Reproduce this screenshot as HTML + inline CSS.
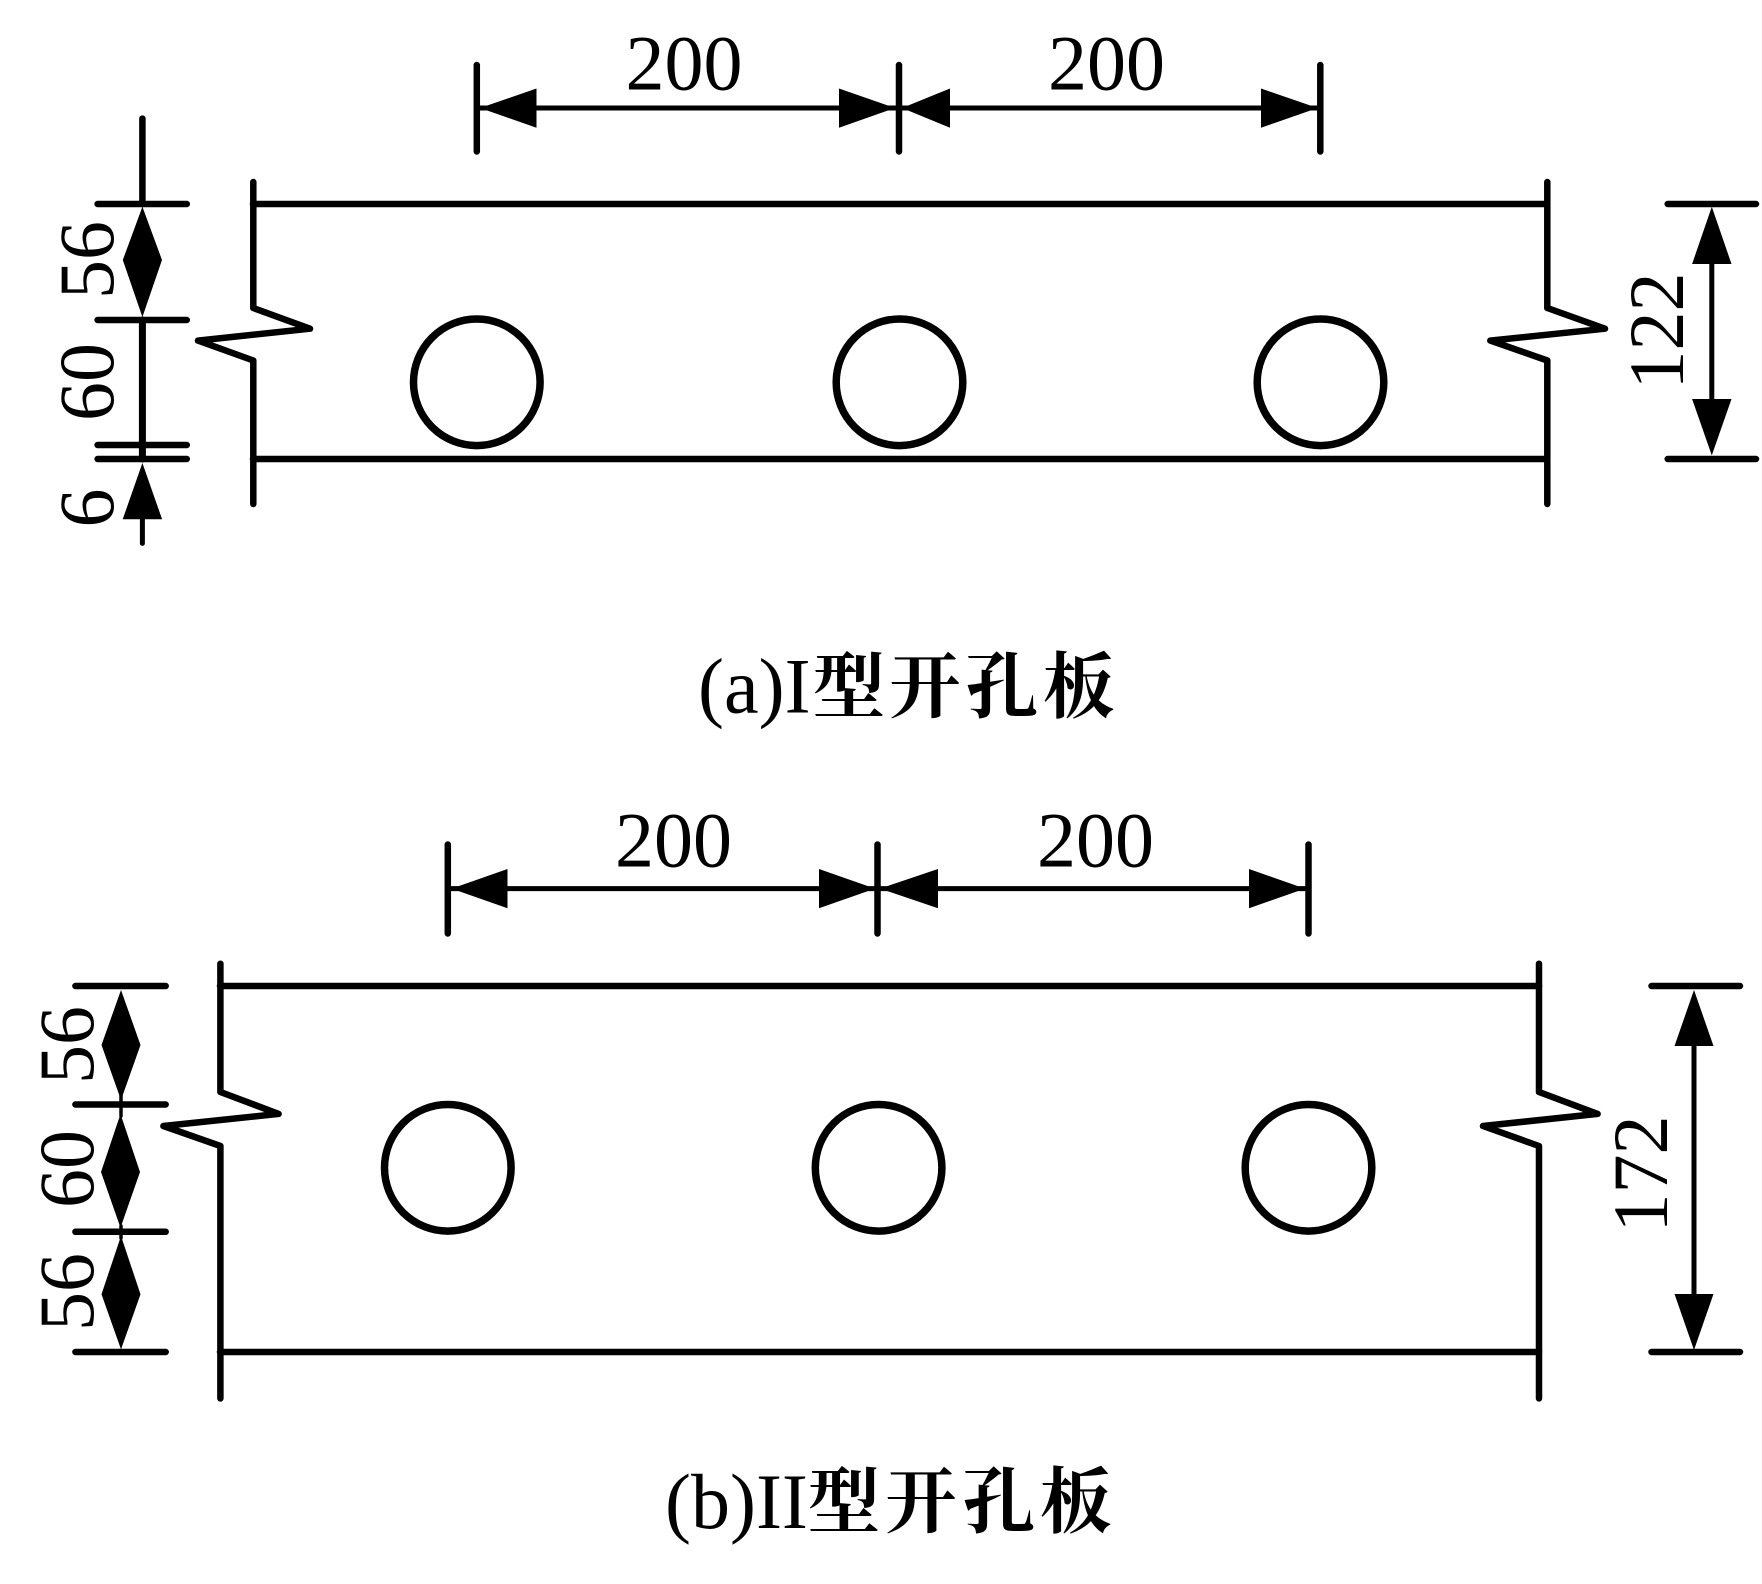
<!DOCTYPE html>
<html><head><meta charset="utf-8"><style>
html,body{margin:0;padding:0;background:#fff}
svg{display:block}
text{font-family:"Liberation Serif","Noto Serif CJK SC",serif;fill:#000;font-size:78px}
.c{font-family:"Noto Serif CJK SC","Liberation Serif",serif;font-weight:700;font-size:72px}
.l{stroke:#000;stroke-width:6.500;fill:none;stroke-linecap:round;stroke-linejoin:round}
.d{stroke:#000;stroke-width:5;fill:none;stroke-linecap:round}
.t{stroke:#000;stroke-width:7.500;fill:none}
</style></head><body>
<svg width="1762" height="1584" viewBox="0 0 1762 1584" xmlns="http://www.w3.org/2000/svg">
<rect width="1762" height="1584" fill="#fff"/>
<!-- Diagram A -->
<g class="l">
<path d="M253.300 182V308L310 328.700L198 340.600L253.300 360.500V504"/>
<path d="M1547.300 182V308L1605 328.700L1490.300 340.600L1547.300 360.500V504"/>
<path d="M253 204H1547M253 459H1547"/>
<path d="M476.800 65V151.500M899 65V151.500M1320.300 65V151.500"/>
<path d="M97.600 204H186.800M97.600 320H186.800M97.600 445H186.800M97.600 459H186.800"/>
<path d="M142.400 118.600V204"/>
<path d="M142.400 320V459" style="stroke-width:7"/>
<path d="M1667.700 204H1756M1667.700 459H1756"/>
</g>
<g class="d">
<path d="M476.800 108H1320"/>
<path d="M142.400 519V543.400"/>
<path d="M1711.800 264V399"/>
</g>
<circle class="t" cx="476.800" cy="382.300" r="63.300"/>
<circle class="t" cx="899.500" cy="382.300" r="63.300"/>
<circle class="t" cx="1320.500" cy="382.300" r="63.300"/>
<path d="M480 108L536.500 88.500V127.700ZM895 108L839 88.500V127.700ZM902 108L950 88.500V127.700ZM1317.600 108L1261 88.500V127.700Z"/>
<path d="M142.400 206.700L162 260L142.400 317L122.800 260ZM142.400 463L162.100 519.300H122.700Z"/>
<path d="M1711.800 206.700L1731.500 264H1692.100ZM1711.800 455.400L1731.500 399H1692.100Z"/>
<text x="684" y="89.500" text-anchor="middle">200</text>
<text x="1106.500" y="89.500" text-anchor="middle">200</text>
<text transform="translate(113 260) rotate(-90)" text-anchor="middle">56</text>
<text transform="translate(113 382) rotate(-90)" text-anchor="middle">60</text>
<text transform="translate(113 508) rotate(-90)" text-anchor="middle">6</text>
<text transform="translate(1683 331) rotate(-90)" text-anchor="middle">122</text>
<text x="698" y="712.700">(a)I</text>
<text class="c" x="813" y="712">型</text>
<text class="c" x="889" y="712">开</text>
<text class="c" x="966" y="712">孔</text>
<text class="c" x="1043" y="712">板</text>
<!-- Diagram B -->
<g class="l">
<path d="M220.400 963.700V1092L278.600 1113.900L163.400 1126L220.400 1146V1398.400"/>
<path d="M1539 963.700V1092L1597.600 1113.900L1483 1126L1539 1146V1398.400"/>
<path d="M220 986H1539M220 1352H1539"/>
<path d="M447.800 844.500V933.500M877.500 844.500V933.500M1308.500 844.500V933.500"/>
<path d="M75.400 986H165.700M75.400 1104.500H165.700M75.400 1231.800H165.700M75.400 1352H165.700"/>
<path d="M1651.500 986H1740M1651.500 1352H1740"/>
</g>
<g class="d">
<path d="M447.800 888.600H1308.500"/>
<path d="M121 1095V1116M121 1226V1238" style="stroke-width:3.500"/>
<path d="M1694 1046V1294"/>
</g>
<circle class="t" cx="447.800" cy="1167.800" r="63.300"/>
<circle class="t" cx="878.600" cy="1167.800" r="63.300"/>
<circle class="t" cx="1308.500" cy="1167.800" r="63.300"/>
<path d="M451.600 888.600L507.500 869V908.200ZM875 888.600L819 869V908.200ZM880 888.600L938 869V908.200ZM1305 888.600L1249 869V908.200Z"/>
<path d="M121 990L140.500 1045L121 1100L101.500 1045ZM120.500 1114L140 1172L120.500 1227.700L101 1172ZM121 1236L140.500 1294.300L121 1349.400L101.500 1294.300Z"/>
<path d="M1694 990L1713.500 1046H1674.500ZM1694 1350L1713.500 1294H1674.500Z"/>
<text x="673.500" y="866.500" text-anchor="middle">200</text>
<text x="1095.500" y="866.500" text-anchor="middle">200</text>
<text transform="translate(93 1045) rotate(-90)" text-anchor="middle">56</text>
<text transform="translate(93 1169) rotate(-90)" text-anchor="middle">60</text>
<text transform="translate(93 1292) rotate(-90)" text-anchor="middle">56</text>
<text transform="translate(1667 1174) rotate(-90)" text-anchor="middle">172</text>
<text x="665" y="1528">(b)II</text>
<text class="c" x="808" y="1527">型</text>
<text class="c" x="885" y="1527">开</text>
<text class="c" x="963" y="1527">孔</text>
<text class="c" x="1040" y="1527">板</text>
</svg>
</body></html>
